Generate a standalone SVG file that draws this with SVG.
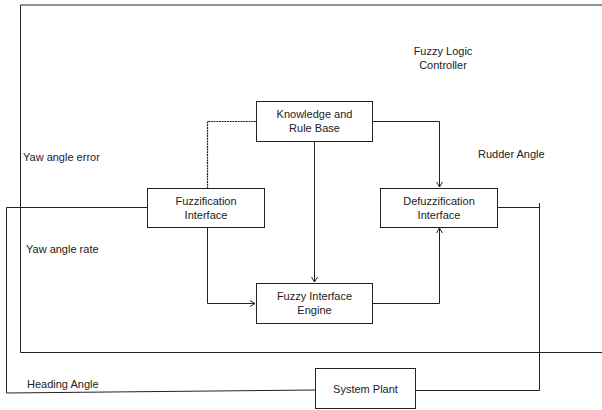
<svg xmlns="http://www.w3.org/2000/svg" width="602" height="410" viewBox="0 0 602 410">
<defs>
<style>
.box{fill:#fff;stroke:#222;stroke-width:1}
.ln{fill:none;stroke:#222;stroke-width:1}
.dash{fill:none;stroke:#222;stroke-width:1.2;stroke-dasharray:2 0.7}
.t{font-family:"Liberation Sans",Arial,sans-serif;font-size:11px;fill:#222}
.c{text-anchor:middle}
</style>
<marker id="ah" viewBox="0 0 8 8" refX="7" refY="4" markerWidth="8" markerHeight="8" markerUnits="userSpaceOnUse" orient="auto">
<path d="M2,1 L7,4 L2,7" fill="none" stroke="#222" stroke-width="1"/>
</marker>
</defs>
<rect width="602" height="410" fill="#fff"/>
<g id="controller">
<path class="ln" d="M605,5 H20.5 V352.5 H605" stroke-width="1.3"/>
<text class="t c" x="443" y="55">Fuzzy Logic</text>
<text class="t c" x="443" y="69">Controller</text>
</g>
<g id="connectors">
<path class="dash" d="M256,121.5 H207.5 V188"/>
<path class="ln" d="M372,121.5 H439.5 V187" marker-end="url(#ah)"/>
<path class="ln" d="M314.5,141 V282" marker-end="url(#ah)"/>
<path class="ln" d="M207.5,227 V303.5 H255" marker-end="url(#ah)"/>
<path class="ln" d="M372,303.5 H439.5 V228" marker-end="url(#ah)"/>
<path class="ln" d="M147,207.5 H6.5 V393 L315,390"/>
<path class="ln" d="M497,207.5 H539.5 V390.5 H415"/>
<path class="ln" d="M539.5,203 V215" stroke-width="2"/>
<text class="t" x="23" y="161">Yaw angle error</text>
<text class="t" x="26" y="253">Yaw angle rate</text>
<text class="t" x="478" y="158">Rudder Angle</text>
<text class="t" x="27" y="388">Heading Angle</text>
</g>
<g id="knowledge">
<rect class="box" x="256.5" y="101.5" width="116" height="40"/>
<text class="t c" x="314.5" y="118">Knowledge and</text>
<text class="t c" x="314.5" y="132">Rule Base</text>
</g>
<g id="fuzzification">
<rect class="box" x="147.5" y="188.5" width="117" height="39"/>
<text class="t c" x="206" y="205">Fuzzification</text>
<text class="t c" x="206" y="219">Interface</text>
</g>
<g id="defuzzification">
<rect class="box" x="380.5" y="188.5" width="117" height="39"/>
<text class="t c" x="439" y="205">Defuzzification</text>
<text class="t c" x="439" y="219">Interface</text>
</g>
<g id="engine">
<rect class="box" x="256.5" y="283.5" width="116" height="40"/>
<text class="t c" x="314.5" y="300">Fuzzy Interface</text>
<text class="t c" x="314.5" y="314">Engine</text>
</g>
<g id="plant">
<rect class="box" x="315.5" y="368.5" width="100" height="40"/>
<text class="t c" x="365.5" y="393">System Plant</text>
</g>
</svg>
